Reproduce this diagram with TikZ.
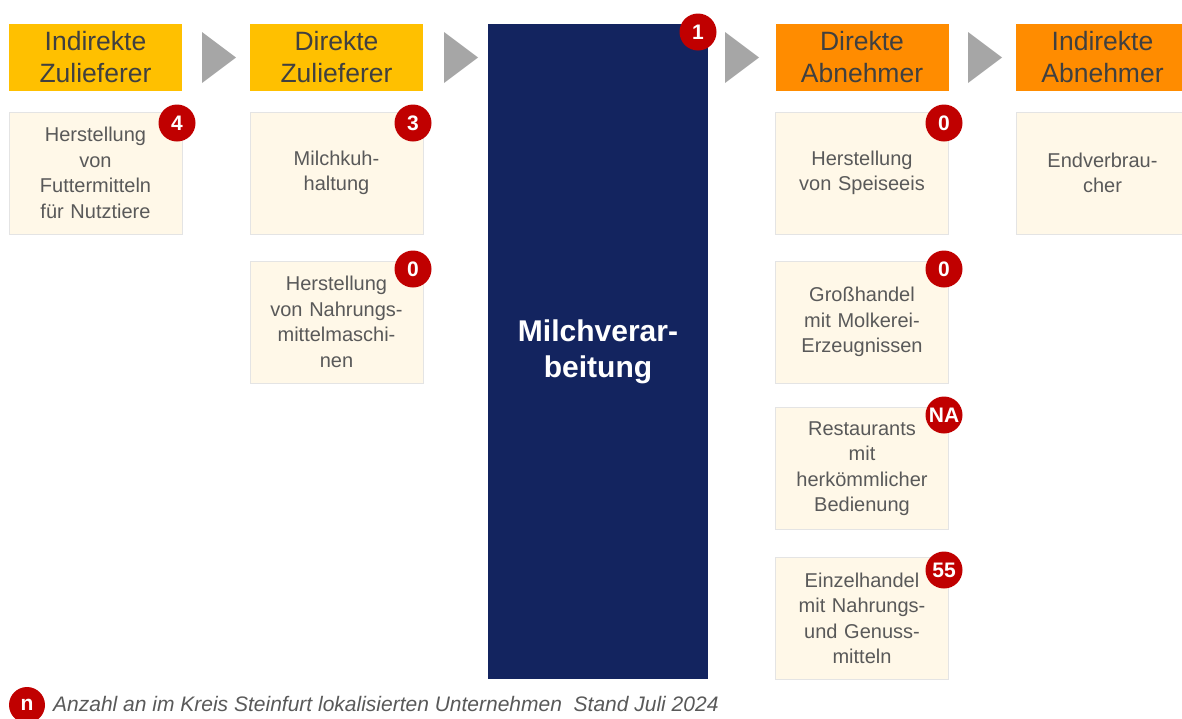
\documentclass[tikz,border=0pt]{standalone}
\usepackage{fontspec}
\setmainfont{Liberation Sans}
\usetikzlibrary{positioning}

\definecolor{zuliefer}{HTML}{FFC000}
\definecolor{abnehmer}{HTML}{FF8C00}
\definecolor{navy}{HTML}{13245F}
\definecolor{cream}{HTML}{FFF8E8}
\definecolor{cellline}{HTML}{E4E4E4}
\definecolor{badgered}{HTML}{C00000}
\definecolor{darktext}{HTML}{404040}
\definecolor{celltext}{HTML}{595959}
\definecolor{arrowgray}{HTML}{A6A6A6}

\tikzset{
    header/.style = {inner sep = 0pt, minimum width = 173pt, minimum height = 67pt,
        text width = 173pt, align = center, text = darktext,
        font = \fontsize{26.5}{32}\selectfont},
    cell/.style = {draw = cellline, fill = cream, inner sep = 0pt,
        minimum width = 173pt, minimum height = 122pt, text width = 173pt,
        align = center, text = celltext, font = \fontsize{20}{25.5}\selectfont},
    badge/.style = {circle, fill = badgered, text = white, inner sep = 0pt,
        minimum size = 37pt, font = \bfseries\fontsize{21}{21}\selectfont},
    arrowtri/.style = {fill = arrowgray},
}

\begin{document}
\begin{tikzpicture}[x = 1pt, y = -1pt]
    \useasboundingbox (0, 0) rectangle (1182, 718);

    % draw headers
    \node[header, fill = zuliefer] (iz) at (95.5, 57) {Indirekte\\Zulieferer};
    \node[header, fill = zuliefer] (dz) at (336.5, 57) {Direkte\\Zulieferer};
    \node[header, fill = abnehmer] (da) at (862, 57) {Direkte\\Abnehmer};
    \node[header, fill = abnehmer] (ia) at (1102.5, 57) {Indirekte\\Abnehmer};

    % draw gray arrows between the stages
    \fill[arrowtri] (202, 32) -- (236, 57.5) -- (202, 83) -- cycle;
    \fill[arrowtri] (444, 32) -- (478, 57.5) -- (444, 83) -- cycle;
    \fill[arrowtri] (725, 32) -- (759, 57.5) -- (725, 83) -- cycle;
    \fill[arrowtri] (968, 32) -- (1002, 57.5) -- (968, 83) -- cycle;

    % draw processing block
    \node[fill = navy, inner sep = 0pt, minimum width = 220pt, minimum height = 655pt,
        text width = 220pt, align = center, text = white,
        font = \bfseries\fontsize{30}{36}\selectfont] (mv) at (598, 351.5) {Milchverar-\\beitung};
    \node[badge] (b1) at (698, 32) {1};

    % draw indirect suppliers
    \node[cell] (futter) at (95.5, 173) {Herstellung\\von\\Futtermitteln\\für Nutztiere};
    \node[badge] (b4) at (177, 123) {4};

    % draw direct suppliers
    \node[cell] (kuh) at (336.5, 173) {Milchkuh-\\haltung};
    \node[badge] (b3) at (413, 123) {3};

    \node[cell] (masch) at (336.5, 322) {Herstellung\\von Nahrungs-\\mittelmaschi-\\nen};
    \node[badge] (b0a) at (413, 269) {0};

    % draw direct customers
    \node[cell] (eis) at (862, 173) {Herstellung\\von Speiseeis};
    \node[badge] (b0b) at (944, 123) {0};

    \node[cell] (gross) at (862, 322) {Großhandel\\mit Molkerei-\\Erzeugnissen};
    \node[badge] (b0c) at (944, 269) {0};

    \node[cell] (rest) at (862, 468.5) {Restaurants\\mit\\herkömmlicher\\Bedienung};
    \node[badge] (bna) at (944, 415) {NA};

    \node[cell] (einzel) at (862, 618.5) {Einzelhandel\\mit Nahrungs-\\und Genuss-\\mitteln};
    \node[badge] (b55) at (944, 570) {55};

    % draw indirect customers
    \node[cell] (endv) at (1102.5, 173) {Endverbrau-\\cher};

    % draw legend
    \node[badge, minimum size = 36pt] (bn) at (27, 705) {n};
    \node[anchor = west, inner sep = 0pt, text = celltext,
        font = \itshape\fontsize{21}{21}\selectfont] (legende) at (53, 704)
        {Anzahl an im Kreis Steinfurt lokalisierten Unternehmen~ Stand Juli 2024};

\end{tikzpicture}
\end{document}
